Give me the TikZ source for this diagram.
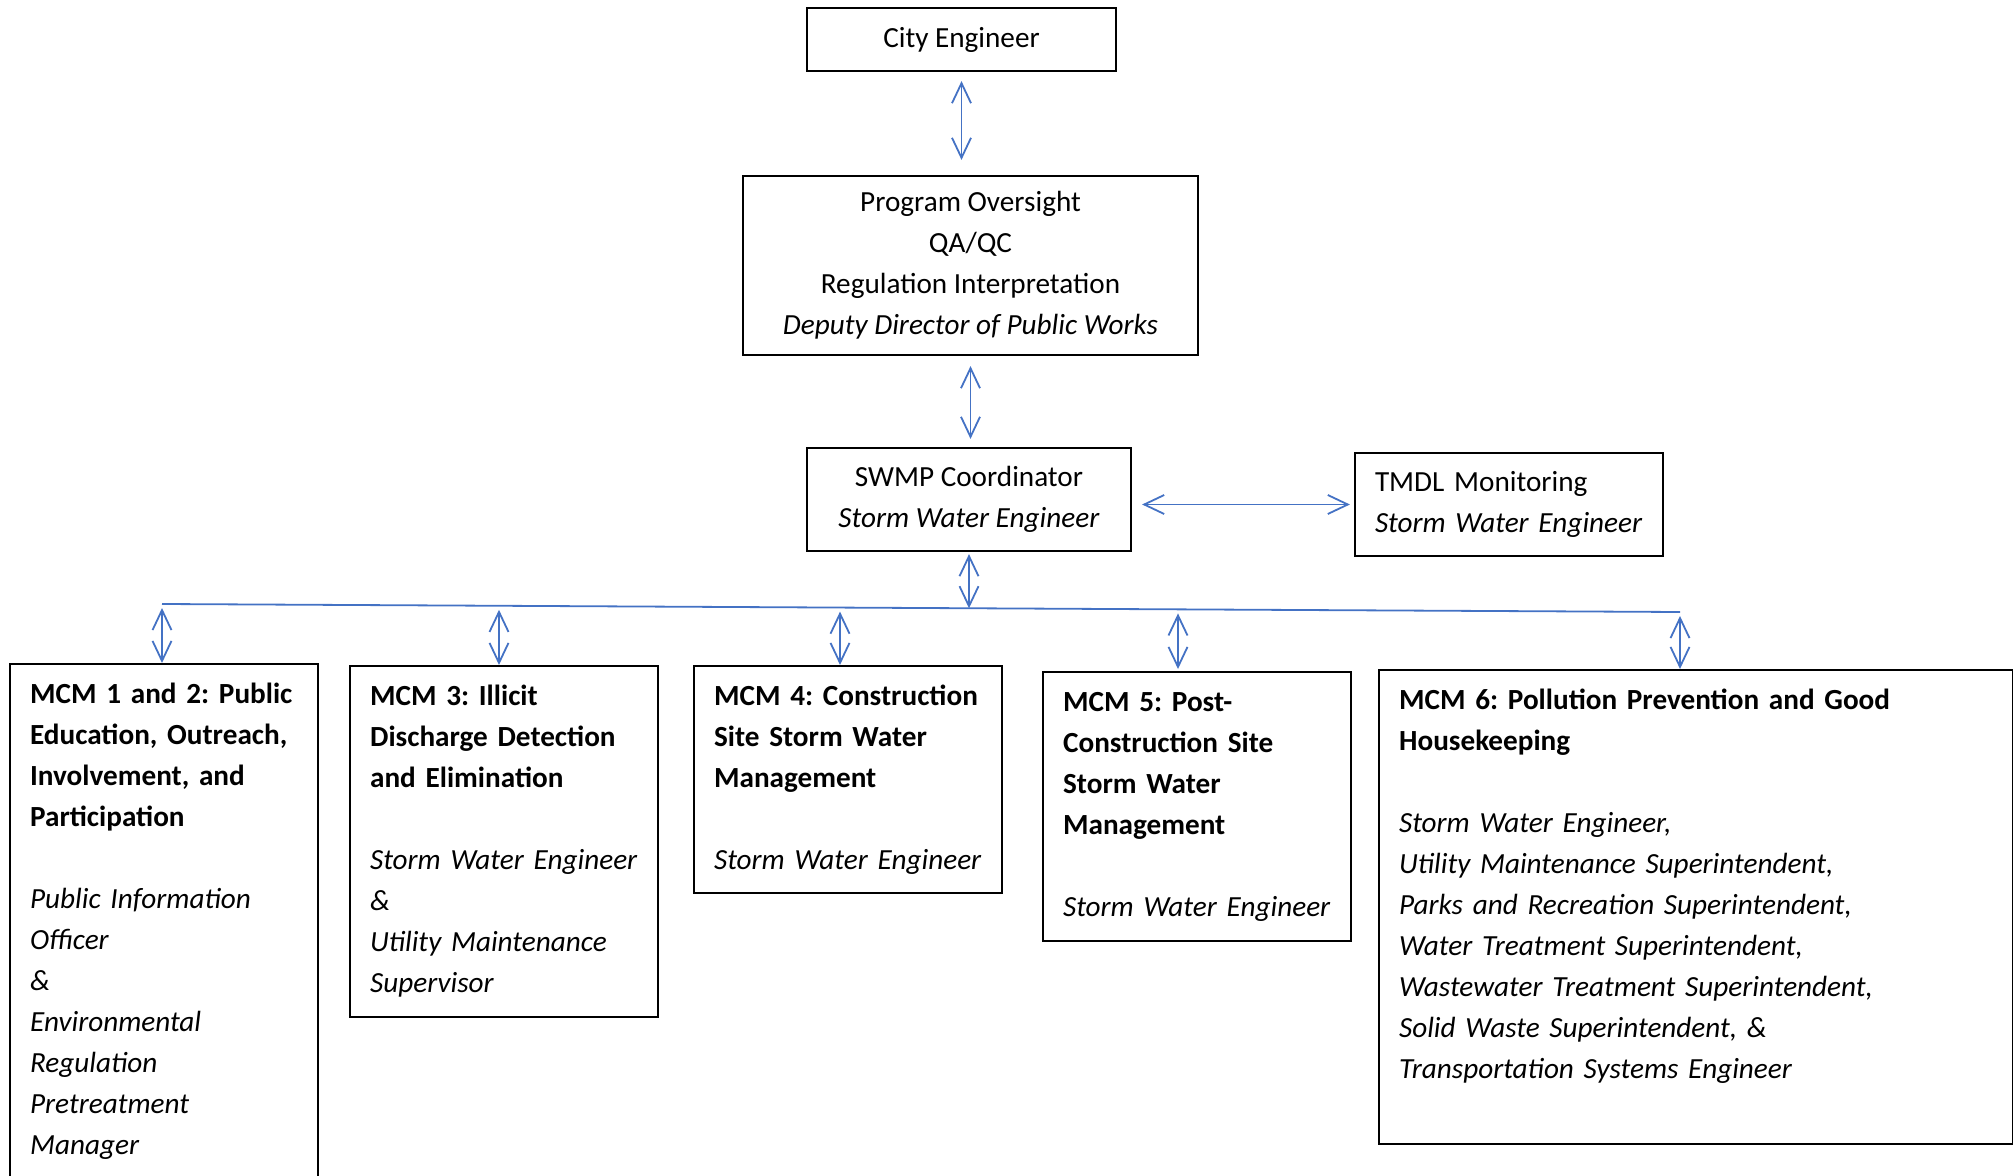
\documentclass[tikz,border=0pt]{standalone}
\usepackage{fontspec}
\setmainfont{Carlito}
\usepackage{tikz}
\usetikzlibrary{arrows.meta}
\usepackage{xcolor}
\definecolor{linkblue}{RGB}{68,114,196}
\frenchspacing
\hyphenpenalty=10000
\exhyphenpenalty=10000

\begin{document}
\begin{tikzpicture}[x=0.5pt,y=-0.5pt,>={Straight Barb[length=10pt,width=9.5pt]},
  font=\fontsize{14.6pt}{20.5pt}\selectfont,
  orgbox/.style={draw,line width=1.1pt,inner sep=0pt},
  mcmbox/.style={orgbox,anchor=north west,inner xsep=10pt,inner ysep=5pt,text width=134pt,align=left,text height=14.5pt},
  link/.style={<->,draw=linkblue,line width=0.9pt}]
\clip (0,0) rectangle (2013,1176);
\node[orgbox,minimum width=154.5pt,minimum height=31.5pt] (ce) at (961.5,39.5) {City Engineer};
\node[orgbox,minimum width=227.5pt,minimum height=89.5pt,align=center] (po) at (970.5,265.5)
  {Program Oversight\\QA/QC\\Regulation Interpretation\\\textit{Deputy Director of Public Works}};
\node[orgbox,minimum width=162pt,minimum height=51.5pt,align=center] (sw) at (969,499.5)
  {SWMP Coordinator\\\textit{Storm Water Engineer}};
\node[orgbox,minimum height=51.5pt,inner xsep=10pt,text width=134pt,align=left] (tm) at (1509,504.5)
  {TMDL Monitoring\\\textit{Storm Water Engineer}};
% MCM boxes
\node[mcmbox,text depth=255.5pt] (mcm1) at (9,663)
  {\textbf{MCM 1 and 2: Public}\\\textbf{Education, Outreach,}\\\textbf{Involvement, and}\\\textbf{Participation}\\[20.5pt]
   \textit{Public Information}\\\textit{Officer}\\\textit{\&}\\\textit{Environmental}\\\textit{Regulation}\\\textit{Pretreatment}\\\textit{Manager}};
\node[mcmbox,text depth=151pt] (mcm2) at (349,665)
  {\textbf{MCM 3: Illicit}\\\textbf{Discharge Detection}\\\textbf{and Elimination}\\[20.5pt]
   \textit{Storm Water Engineer}\\\textit{\&}\\\textit{Utility Maintenance}\\\textit{Supervisor}};
\node[mcmbox,text depth=89pt] (mcm3) at (693,665)
  {\textbf{MCM 4: Construction}\\\textbf{Site Storm Water}\\\textbf{Management}\\[20.5pt]
   \textit{Storm Water Engineer}};
\node[mcmbox,text depth=110pt] (mcm4) at (1042,671)
  {\textbf{MCM 5: Post-}\\\textbf{Construction Site}\\\textbf{Storm Water}\\\textbf{Management}\\[20.5pt]
   \textit{Storm Water Engineer}};
\node[mcmbox,text width=297pt,text depth=212.5pt] (mcm5) at (1378,669)
  {\textbf{MCM 6: Pollution Prevention and Good}\\\textbf{Housekeeping}\\[20.5pt]
   \textit{Storm Water Engineer,}\\\textit{Utility Maintenance Superintendent,}\\\textit{Parks and Recreation Superintendent,}\\
   \textit{Water Treatment Superintendent,}\\\textit{Wastewater Treatment Superintendent,}\\
   \textit{Solid Waste Superintendent, \&}\\\textit{Transportation Systems Engineer}};
% bus line
\coordinate (tap1) at (162,604);
\coordinate (tap2) at (499,605.8);
\coordinate (tap3) at (840,607.6);
\coordinate (tapc) at (970,608.3);
\coordinate (tap4) at (1178,609.4);
\coordinate (tap5) at (1680,612);
\draw[linkblue,line width=0.9pt] (tap1) -- (tap5);
% connectors
\draw[link,shorten <=4.5pt,shorten >=7.5pt] (ce.south) -- (ce.south |- po.north);
\draw[link,shorten <=5pt,shorten >=4pt] (po.south) -- (po.south |- sw.north);
\draw[link,shorten <=5pt,shorten >=2pt] (sw.east |- tm.west) -- (tm.west);
\draw[link,shorten <=1pt] (sw.south) -- (sw.south |- tapc);
\draw[link,shorten <=2pt] (tap1) -- (tap1 |- mcm1.north);
\draw[link,shorten <=2pt] (tap2) -- (tap2 |- mcm2.north);
\draw[link,shorten <=2pt] (tap3) -- (tap3 |- mcm3.north);
\draw[link,shorten <=2pt,shorten >=1pt] (tap4) -- (tap4 |- mcm4.north);
\draw[link,shorten <=2pt] (tap5) -- (tap5 |- mcm5.north);
\end{tikzpicture}
\end{document}
